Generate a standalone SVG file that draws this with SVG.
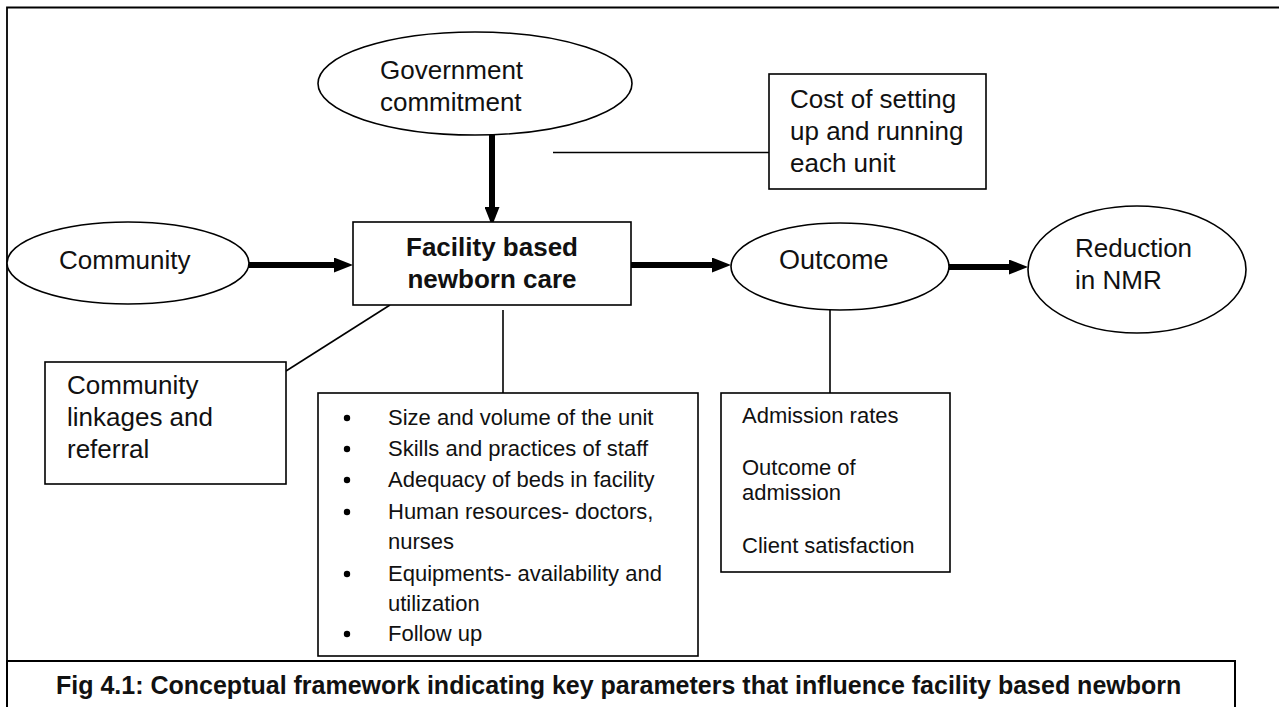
<svg xmlns="http://www.w3.org/2000/svg" width="1279" height="707" viewBox="0 0 1279 707">
  <style>
    .shape { fill: #ffffff; stroke: #000000; stroke-width: 1.6; }
    .thin { fill: none; stroke: #000000; stroke-width: 1.6; }
    .thick { fill: none; stroke: #000000; stroke-width: 6; }
    .lbl { font-family: "Liberation Sans", Arial, sans-serif; font-size: 26px; fill: #111111; }
    .bold { font-weight: bold; }
    .small { font-size: 22px; }
    .cap { font-family: "Liberation Sans", Arial, sans-serif; font-size: 25px; font-weight: bold; fill: #111111; }
  </style>
  <defs>
    <marker id="head" markerUnits="userSpaceOnUse" markerWidth="19" markerHeight="15" viewBox="0 0 19 15" refX="0" refY="7.5" orient="auto">
      <path d="M0,0 L19,7.5 L0,15 Z" fill="#000000"/>
    </marker>
  </defs>

  <rect x="0" y="0" width="1279" height="707" fill="#ffffff"/>

  <!-- outer frame -->
  <path d="M7,707 V7.5 H1280" fill="none" stroke="#000000" stroke-width="1.8"/>

  <!-- connectors -->
  <g id="connectors">
    <line class="thick" x1="492" y1="135" x2="492" y2="207" marker-end="url(#head)"/>
    <line class="thick" x1="249" y1="265" x2="334" y2="265" marker-end="url(#head)"/>
    <line class="thick" x1="631" y1="265" x2="712" y2="265" marker-end="url(#head)"/>
    <line class="thick" x1="949" y1="267" x2="1009" y2="267" marker-end="url(#head)"/>
    <line class="thin" x1="553" y1="152.5" x2="769" y2="152.5"/>
    <line class="thin" x1="390" y1="305" x2="286" y2="371"/>
    <line class="thin" x1="503" y1="310" x2="503" y2="393"/>
    <line class="thin" x1="830" y1="310" x2="830" y2="393"/>
  </g>

  <g id="government">
    <ellipse class="shape" cx="475" cy="83.5" rx="157" ry="51.5"/>
    <text class="lbl" x="380" y="79">Government</text>
    <text class="lbl" x="380" y="111">commitment</text>
  </g>

  <g id="cost">
    <rect class="shape" x="769" y="74" width="217" height="115"/>
    <text class="lbl" x="790" y="108">Cost of setting</text>
    <text class="lbl" x="790" y="140">up and running</text>
    <text class="lbl" x="790" y="172">each unit</text>
  </g>

  <g id="community">
    <ellipse class="shape" cx="128" cy="263" rx="121" ry="41"/>
    <text class="lbl" x="59" y="269">Community</text>
  </g>

  <g id="facility">
    <rect class="shape" x="353" y="222" width="278" height="83"/>
    <text class="lbl bold" x="492" y="256" text-anchor="middle">Facility based</text>
    <text class="lbl bold" x="492" y="288" text-anchor="middle">newborn care</text>
  </g>

  <g id="outcome">
    <ellipse class="shape" cx="840" cy="266.5" rx="109" ry="43.5"/>
    <text class="lbl" x="779" y="269" style="font-size:27px">Outcome</text>
  </g>

  <g id="reduction">
    <ellipse class="shape" cx="1137" cy="269.5" rx="109" ry="63.5"/>
    <text class="lbl" x="1075" y="257">Reduction</text>
    <text class="lbl" x="1075" y="289">in NMR</text>
  </g>

  <g id="linkages">
    <rect class="shape" x="45" y="362" width="241" height="122"/>
    <text class="lbl" x="67" y="394">Community</text>
    <text class="lbl" x="67" y="426">linkages and</text>
    <text class="lbl" x="67" y="458">referral</text>
  </g>

  <g id="parameters">
    <rect class="shape" x="318" y="393" width="380" height="263"/>
    <g fill="#000000">
      <circle cx="347" cy="418" r="3.2"/>
      <circle cx="347" cy="449" r="3.2"/>
      <circle cx="347" cy="480" r="3.2"/>
      <circle cx="347" cy="512" r="3.2"/>
      <circle cx="347" cy="574" r="3.2"/>
      <circle cx="347" cy="634" r="3.2"/>
    </g>
    <text class="lbl small" x="388" y="425">Size and volume of the unit</text>
    <text class="lbl small" x="388" y="456">Skills and practices of staff</text>
    <text class="lbl small" x="388" y="487">Adequacy of beds in facility</text>
    <text class="lbl small" x="388" y="519">Human resources- doctors,</text>
    <text class="lbl small" x="388" y="549">nurses</text>
    <text class="lbl small" x="388" y="581">Equipments- availability and</text>
    <text class="lbl small" x="388" y="611">utilization</text>
    <text class="lbl small" x="388" y="641">Follow up</text>
  </g>

  <g id="measures">
    <rect class="shape" x="721" y="393" width="229" height="179"/>
    <text class="lbl small" x="742" y="423">Admission rates</text>
    <text class="lbl small" x="742" y="475">Outcome of</text>
    <text class="lbl small" x="742" y="500">admission</text>
    <text class="lbl small" x="742" y="553">Client satisfaction</text>
  </g>

  <g id="caption">
    <rect x="7" y="661" width="1228" height="60" fill="#ffffff" stroke="#000000" stroke-width="2"/>
    <text class="cap" x="56" y="694">Fig 4.1: Conceptual framework indicating key parameters that influence facility based newborn</text>
  </g>
</svg>
